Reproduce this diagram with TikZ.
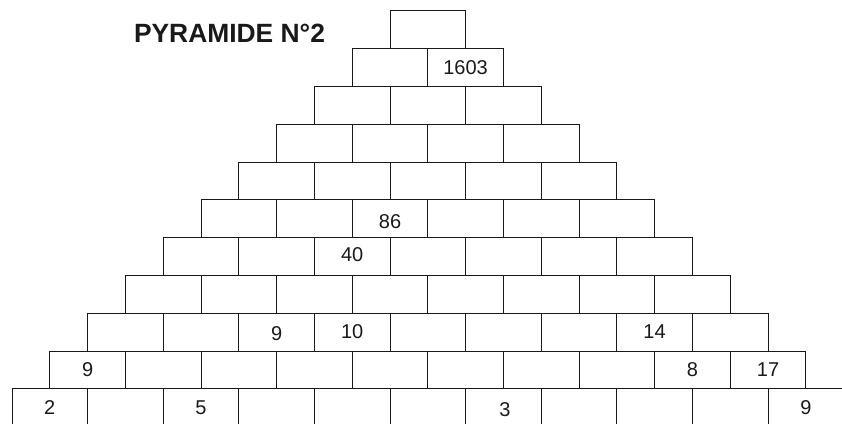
\documentclass[tikz,border=0pt]{standalone}
\usepackage{fontspec}
\setmainfont{Liberation Sans}
\begin{document}
\begin{tikzpicture}[x=1pt,y=-1pt,
  brick/.style={draw=black!90, line width=0.8pt, minimum width=75.6pt, minimum height=37.8pt, inner sep=0pt, outer sep=0pt},
  num/.style={font=\fontsize{20}{24}\selectfont, text=black!90, inner sep=0pt},
  titlestyle/.style={font=\fontsize{26.4}{30}\selectfont\bfseries, text=black!90, inner sep=0pt}]
\useasboundingbox (0,0) rectangle (842,423);
\clip (0,0) rectangle (842,423);
\foreach \r in {1,...,11}{
  \foreach \c in {1,...,\r}{
    \pgfmathsetmacro\cx{390-(\r-1)*37.8+(\c-1)*75.6+37.8}
    \pgfmathsetmacro\cy{10.7+(\r-1)*37.8+18.9}
    \node[brick] (b-\r-\c) at (\cx,\cy) {};
  }
}
\node[titlestyle] (title) at (229.5,33.7) {PYRAMIDE N°2};
\node[num] (n-2-2) at (b-2-2.center) {1603};
\node[num, yshift=-3.5pt] (n-6-3) at (b-6-3.center) {86};
\node[num, yshift=2pt] (n-7-3) at (b-7-3.center) {40};
\node[num, yshift=-2pt] (n-9-3) at (b-9-3.center) {9};
\node[num] (n-9-4) at (b-9-4.center) {10};
\node[num] (n-9-8) at (b-9-8.center) {14};
\node[num] (n-10-1) at (b-10-1.center) {9};
\node[num] (n-10-9) at (b-10-9.center) {8};
\node[num] (n-10-10) at (b-10-10.center) {17};
\node[num] (n-11-1) at (b-11-1.center) {2};
\node[num] (n-11-3) at (b-11-3.center) {5};
\node[num, xshift=1.5pt, yshift=-2pt] (n-11-7) at (b-11-7.center) {3};
\node[num] (n-11-11) at (b-11-11.center) {9};
\end{tikzpicture}
\end{document}
